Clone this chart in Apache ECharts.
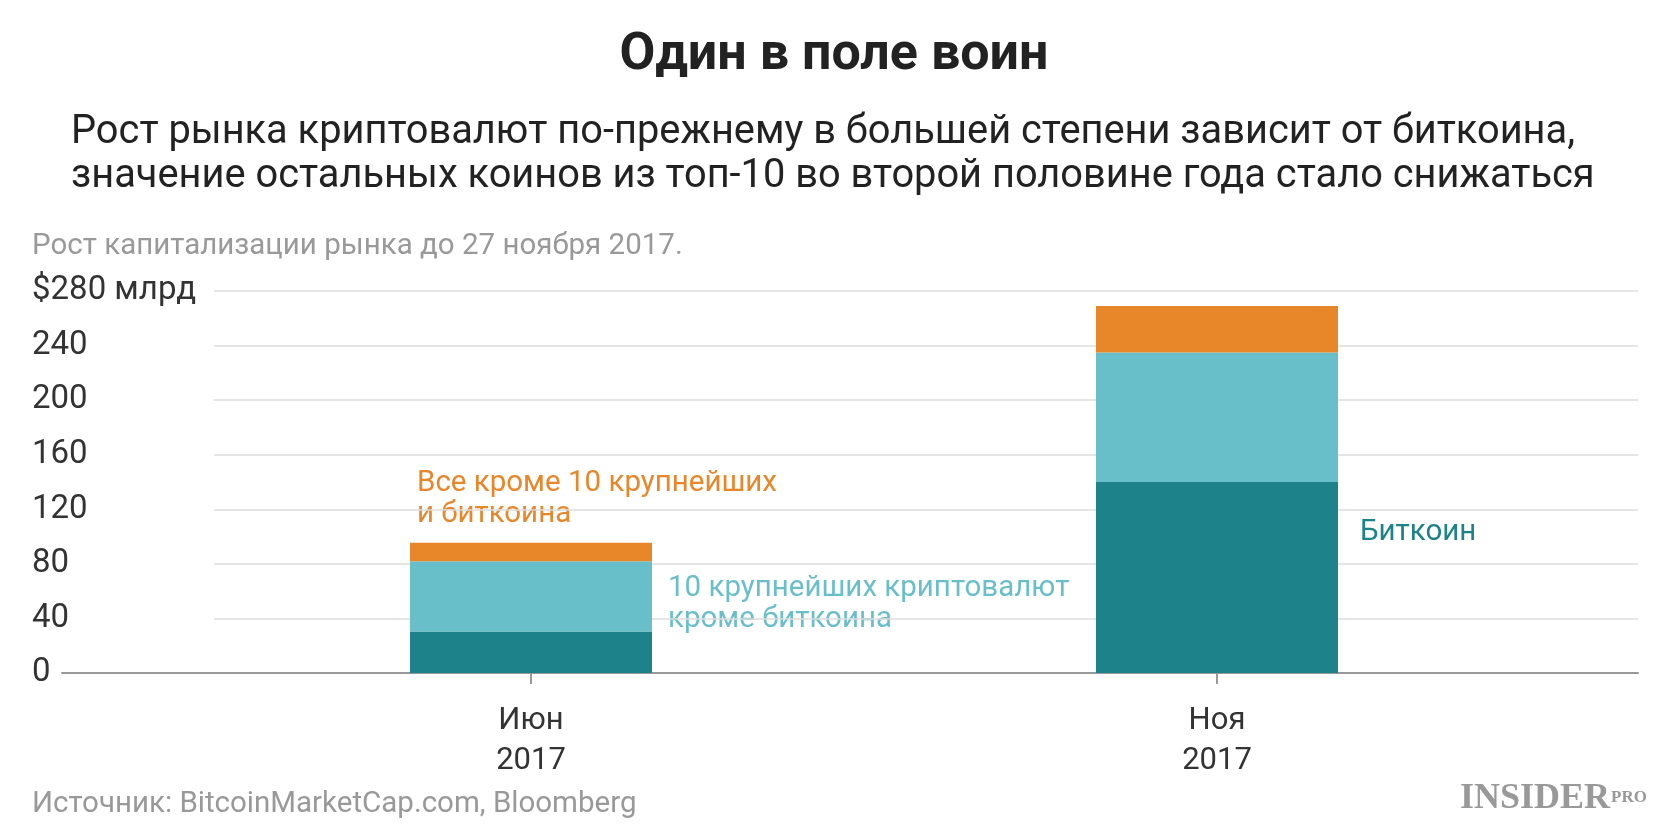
<!DOCTYPE html><html><head><meta charset="utf-8">
<script src="https://cdn.jsdelivr.net/npm/echarts@6/dist/echarts.min.js"></script>
<style>html,body{margin:0;background:#fff}#c{width:1668px;height:835px}</style></head><body><div id="c"></div>
<script>
const categories=['Июн\n2017','Ноя\n2017'];
const bitcoin=[30.5,140];
const top10=[51.5,95];
const others=[13.5,34];
const yTicks=[0,40,80,120,160,200,240,280];
const c=echarts.init(document.getElementById('c'));
const gTop=291,gBottom=162;
c.setOption({
 animation:false,
 textStyle:{fontFamily:'Roboto'},
 grid:[{left:214,right:30,top:gTop,bottom:gBottom},{left:62,right:30,top:gTop,bottom:gBottom},{left:188,right:108,top:gTop,bottom:gBottom}],
 xAxis:[
  {gridIndex:0,type:'value',show:false},
  {gridIndex:1,type:'value',axisLine:{lineStyle:{color:'#999',width:2}},axisLabel:{show:false},axisTick:{show:false},splitLine:{show:false}},
  {gridIndex:2,type:'category',data:categories,axisLine:{show:false},axisTick:{show:true,alignWithLabel:true,length:11,lineStyle:{color:'#999',width:2}},axisLabel:{fontSize:31,color:'#333',lineHeight:40,margin:28}}
 ],
 yAxis:[
  {gridIndex:0,type:'value',min:0,max:280,interval:40,axisLine:{show:false},axisTick:{show:false},splitLine:{lineStyle:{color:'#ddd',width:1.5}},
   axisLabel:{margin:182,align:'left',fontSize:33,color:'#333',formatter:v=>v===280?'$280 млрд':String(v)}},
  {gridIndex:1,type:'value',min:0,max:280,show:false},
  {gridIndex:2,type:'value',min:0,max:280,show:false}
 ],
 series:[
  {type:'bar',xAxisIndex:2,yAxisIndex:2,stack:'a',data:bitcoin,barWidth:242,itemStyle:{color:'#1d8289'}},
  {type:'bar',xAxisIndex:2,yAxisIndex:2,stack:'a',data:top10,barWidth:242,itemStyle:{color:'#69bfc9'}},
  {type:'bar',xAxisIndex:2,yAxisIndex:2,stack:'a',data:others,barWidth:242,itemStyle:{color:'#e8862a'}}
 ],
 graphic:[
  {type:'text',left:'center',top:30,style:{text:'Один в поле воин',font:'bold 52px Roboto',fill:'#222'}},
  {type:'text',left:71,top:111,style:{text:'Рост рынка криптовалют по-прежнему в большей степени зависит от биткоина,\nзначение остальных коинов из топ-10 во второй половине года стало снижаться',font:'39.8px Roboto',lineHeight:44,fill:'#222'}},
  {type:'text',left:32,top:232,style:{text:'Рост капитализации рынка до 27 ноября 2017.',font:'29.5px Roboto',fill:'#999'}},
  {type:'text',left:417,top:468,style:{text:'Все кроме 10 крупнейших\nи биткоина',font:'29.5px Roboto',lineHeight:31,fill:'#e8862a'}},
  {type:'text',left:668,top:573,style:{text:'10 крупнейших криптовалют\nкроме биткоина',font:'29.5px Roboto',lineHeight:31,fill:'#69bfc9'}},
  {type:'text',left:1360,top:518,style:{text:'Биткоин',font:'29.5px Roboto',fill:'#1d8289'}},
  {type:'text',left:32,top:790,style:{text:'Источник: BitcoinMarketCap.com, Bloomberg',font:'29.5px Roboto',fill:'#999'}},
  {type:'text',left:1460,top:781,style:{text:'INSIDER',font:'bold 36px "Liberation Serif"',fill:'#999'}},
  {type:'text',left:1611,top:789,style:{text:'PRO',font:'bold 17px "Liberation Serif"',fill:'#999'}}
 ]
});
</script></body></html>
